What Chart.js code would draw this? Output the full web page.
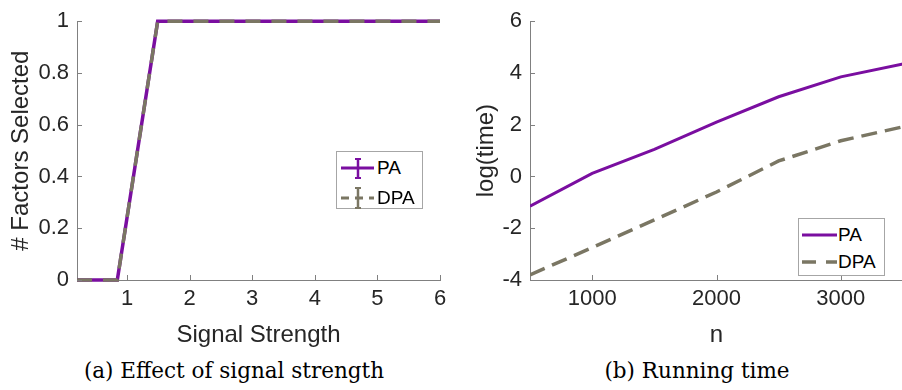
<!DOCTYPE html>
<html>

<head>
  <title>Signal strength and running time</title>
  <script src="https://cdn.jsdelivr.net/npm/chart.js"></script>
  <style>
    body { margin: 0; width: 902px; height: 390px; overflow: hidden; background: #fff; position: relative; }
    canvas { position: absolute; top: 0; }
    .legend { position: absolute; border: 1px solid #a6a6a6; background: #fff; box-sizing: border-box; }
    .row { position: absolute; left: 0; height: 26px; font: 19px "Liberation Sans", Arial, sans-serif; color: #000; }
    .row svg { position: absolute; top: 0; }
    .row span { position: absolute; top: 1px; line-height: 24px; }
    .caption { position: absolute; top: 358px; font: 21.5px "DejaVu Serif", serif; color: #000; white-space: nowrap; transform: translateX(-50%); }
  </style>
</head>

<body>
  <canvas id="chartA" width="455" height="350" style="left:0"></canvas>
  <canvas id="chartB" width="460" height="350" style="left:450px"></canvas>

  <div class="legend" style="left:336px;top:151px;width:87px;height:58px">
    <div class="row" style="top:3px">
      <svg width="40" height="26"><line x1="4" y1="13" x2="37" y2="13" stroke="#7a0ea0" stroke-width="3"/>
        <line x1="21" y1="4" x2="21" y2="23" stroke="#7a0ea0" stroke-width="2.5"/>
        <line x1="18" y1="4" x2="24" y2="4" stroke="#7a0ea0" stroke-width="2"/>
        <line x1="18" y1="23" x2="24" y2="23" stroke="#7a0ea0" stroke-width="2"/></svg>
      <span style="left:40px">PA</span>
    </div>
    <div class="row" style="top:33px">
      <svg width="40" height="26"><line x1="4" y1="13" x2="37" y2="13" stroke="#7a7663" stroke-width="3" stroke-dasharray="8 6"/>
        <line x1="21" y1="3" x2="21" y2="23" stroke="#7a7663" stroke-width="2.5"/>
        <line x1="18" y1="3" x2="24" y2="3" stroke="#7a7663" stroke-width="2"/>
        <line x1="18" y1="23" x2="24" y2="23" stroke="#7a7663" stroke-width="2"/></svg>
      <span style="left:40px">DPA</span>
    </div>
  </div>

  <div class="legend" style="left:798px;top:218px;width:87px;height:58px">
    <div class="row" style="top:3px">
      <svg width="40" height="26"><line x1="3" y1="13" x2="38" y2="13" stroke="#7a0ea0" stroke-width="3"/></svg>
      <span style="left:39px">PA</span>
    </div>
    <div class="row" style="top:30px">
      <svg width="40" height="26"><line x1="3" y1="13" x2="38" y2="13" stroke="#7a7663" stroke-width="3.5" stroke-dasharray="14 10"/></svg>
      <span style="left:39px">DPA</span>
    </div>
  </div>

  <div class="caption" style="left:234px">(a) Effect of signal strength</div>
  <div class="caption" style="left:697px">(b) Running time</div>

  <script>
    // panel (a): effect of signal strength
    const strength = [0.2, 0.844, 1.489, 2.133, 2.778, 3.422, 4.067, 4.711, 5.356, 6];
    const factorsPA = [0, 0, 1, 1, 1, 1, 1, 1, 1, 1];
    const factorsDPA = [0, 0, 1, 1, 1, 1, 1, 1, 1, 1];
    const xTicksA = [1, 2, 3, 4, 5, 6];
    const yTicksA = [0, 0.2, 0.4, 0.6, 0.8, 1];
    const yTickLabelsA = ['0', '0.2', '0.4', '0.6', '0.8', '1'];

    // panel (b): running time
    const sizes = [500, 1000, 1500, 2000, 2500, 3000, 3500];
    const timePA = [-1.15, 0.12, 1.05, 2.1, 3.08, 3.85, 4.35];
    const timeDPA = [-3.8, -2.75, -1.68, -0.6, 0.6, 1.38, 1.92];
    const xTicksB = [1000, 2000, 3000];
    const yTicksB = [-4, -2, 0, 2, 4, 6];

    const purple = '#7a0ea0';
    const olive = '#7a7663';
    const axisColor = '#808080';
    const textColor = '#262626';

    Chart.defaults.font.family = '"Liberation Sans", Arial, sans-serif';
    Chart.defaults.color = textColor;

    // MATLAB style ticks pointing into the plot
    const inwardTicks = {
      id: 'inwardTicks',
      afterDraw(chart) {
        const { ctx, chartArea } = chart;
        const x = chart.scales.x, y = chart.scales.y;
        ctx.save();
        ctx.strokeStyle = axisColor;
        ctx.lineWidth = 1;
        ctx.beginPath();
        x.ticks.forEach(t => {
          const px = Math.round(x.getPixelForValue(t.value)) + 0.5;
          ctx.moveTo(px, chartArea.bottom);
          ctx.lineTo(px, chartArea.bottom - 5);
        });
        y.ticks.forEach(t => {
          const py = Math.round(y.getPixelForValue(t.value)) + 0.5;
          ctx.moveTo(chartArea.left, py);
          ctx.lineTo(chartArea.left + 5, py);
        });
        ctx.stroke();
        ctx.restore();
      }
    };

    function axis(min, max, ticks, labels, title, titlePad, size, horizontal) {
      return {
        type: 'linear',
        min: min,
        max: max,
        afterBuildTicks: s => { s.ticks = ticks.map(v => ({ value: v })); },
        afterFit: s => { if (horizontal) s.height = size; else s.width = size; },
        grid: { display: true, drawOnChartArea: false, drawTicks: false },
        border: { display: true, color: axisColor, width: 1 },
        ticks: {
          padding: horizontal ? 6 : 8,
          font: { size: 22 },
          color: textColor,
          autoSkip: false,
          maxRotation: 0,
          callback: (v, i) => labels[i]
        },
        title: {
          display: true,
          text: title,
          color: textColor,
          font: { size: 24 },
          padding: horizontal ? { top: 0, bottom: titlePad } : { top: titlePad, bottom: 0 }
        }
      };
    }

    new Chart(document.getElementById('chartA'), {
      type: 'line',
      data: {
        datasets: [
          {
            label: 'PA',
            data: strength.map((s, i) => ({ x: s, y: factorsPA[i] })),
            borderColor: purple,
            borderWidth: 3.5,
            pointRadius: 0,
            tension: 0,
            order: 1
          },
          {
            label: 'DPA',
            data: strength.map((s, i) => ({ x: s, y: factorsDPA[i] })),
            borderColor: olive,
            borderWidth: 3.5,
            borderDash: [15, 11],
            pointRadius: 0,
            tension: 0,
            order: 0
          }
        ]
      },
      options: {
        responsive: false,
        animation: false,
        devicePixelRatio: 1,
        clip: false,
        layout: { padding: { top: 14, right: 15, bottom: 0, left: 0 } },
        plugins: { legend: { display: false }, tooltip: { enabled: false } },
        scales: {
          x: axis(0.2, 6, xTicksA, xTicksA.map(String), 'Signal Strength', 0, 70, true),
          y: axis(0, 1, yTicksA, yTickLabelsA, '# Factors Selected', 7, 77, false)
        }
      },
      plugins: [inwardTicks]
    });

    new Chart(document.getElementById('chartB'), {
      type: 'line',
      data: {
        datasets: [
          {
            label: 'PA',
            data: sizes.map((n, i) => ({ x: n, y: timePA[i] })),
            borderColor: purple,
            borderWidth: 3,
            pointRadius: 0,
            tension: 0
          },
          {
            label: 'DPA',
            data: sizes.map((n, i) => ({ x: n, y: timeDPA[i] })),
            borderColor: olive,
            borderWidth: 3.5,
            borderDash: [16, 8],
            pointRadius: 0,
            tension: 0
          }
        ]
      },
      options: {
        responsive: false,
        animation: false,
        devicePixelRatio: 1,
        layout: { padding: { top: 14, right: 7, bottom: 0, left: 0 } },
        plugins: { legend: { display: false }, tooltip: { enabled: false } },
        scales: {
          x: axis(500, 3500, xTicksB, xTicksB.map(String), 'n', 0, 70, true),
          y: axis(-4, 6, yTicksB, yTicksB.map(String), 'log(time)', 22, 80, false)
        }
      },
      plugins: [inwardTicks]
    });
  </script>
</body>

</html>
